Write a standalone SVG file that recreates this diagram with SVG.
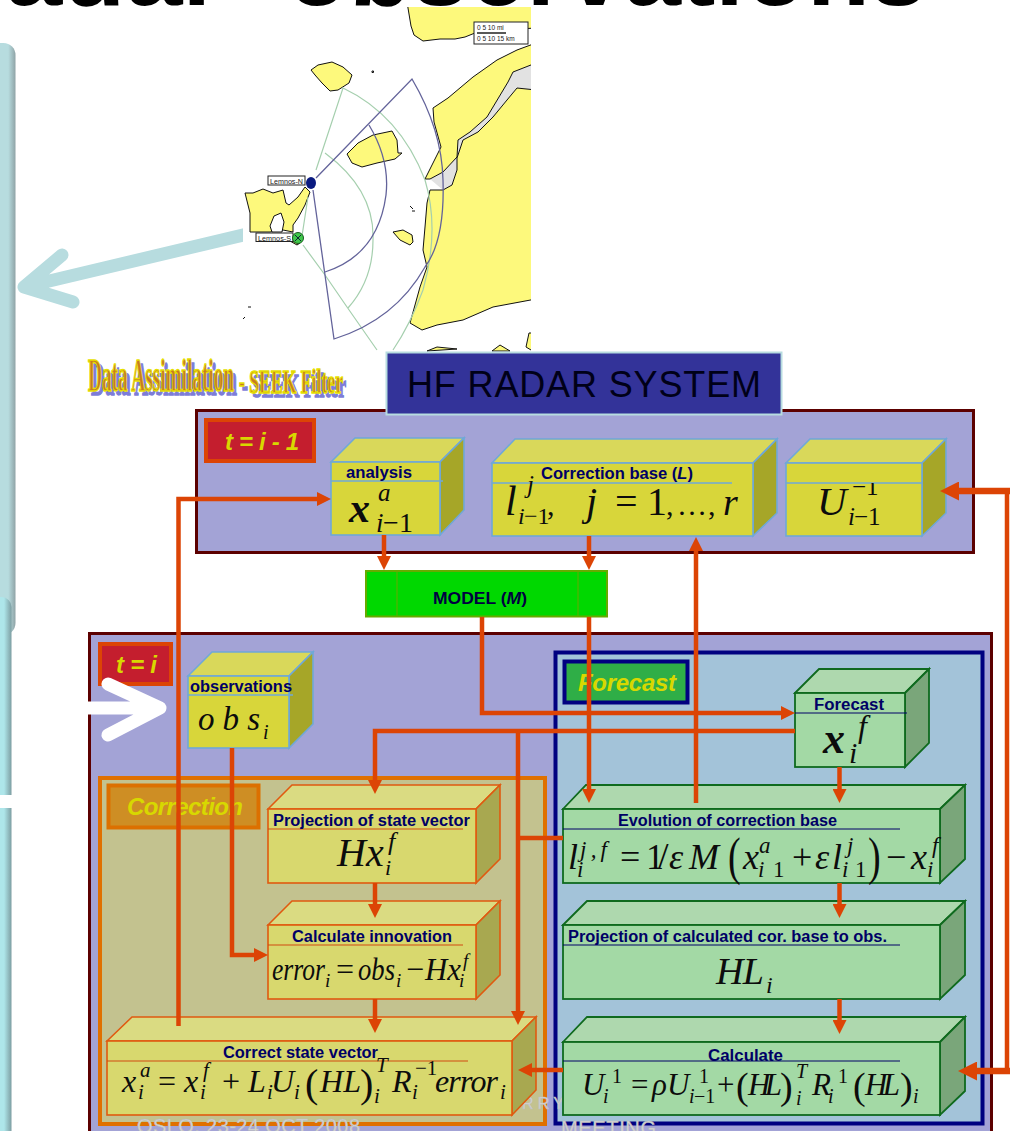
<svg xmlns="http://www.w3.org/2000/svg" width="1010" height="1131" viewBox="0 0 1010 1131">
<style>
text{font-family:"Liberation Serif","Times New Roman",serif;fill:#0c0c0c}
.m{font-style:italic}
.bm{font-style:italic;font-weight:bold}
.t{font-family:"Liberation Sans",Arial,sans-serif;font-weight:bold;font-size:16px;fill:#000066}
.lab{font-family:"Liberation Sans",Arial,sans-serif;font-weight:bold;font-style:italic;font-size:24px;fill:#d8d800}
.wm{font-family:"Liberation Sans",Arial,sans-serif;fill:#d4d4d4;stroke:#bcbcbc;stroke-width:.5}
.land{fill:#fdf97c;stroke:#111;stroke-width:1;stroke-linejoin:round}
.navy{fill:none;stroke:#63639a;stroke-width:1.3}
.grn{fill:none;stroke:#a5cfae;stroke-width:1.2}
.mlab{font-family:"Liberation Sans",Arial,sans-serif;font-size:8px;fill:#222}
.panel{fill:#a3a3d6;stroke:#5c0000;stroke-width:3}
.red{fill:#c41e2e;stroke:#dc4405;stroke-width:4}
.yf{fill:#d8d63a;stroke:#6fa8d8;stroke-width:1.6}
.yt{fill:#d9d85a;stroke:#6fa8d8;stroke-width:1.6}
.ys{fill:#a6a628;stroke:#6fa8d8;stroke-width:1.6}
.yl{stroke:#6fa8d8;stroke-width:1.6;fill:none}
.of{fill:#d8d86e;stroke:#e05a10;stroke-width:1.6}
.ot{fill:#dadb82;stroke:#e05a10;stroke-width:1.6}
.os{fill:#a8a850;stroke:#e05a10;stroke-width:1.6}
.ol{stroke:#d04a10;stroke-width:1;fill:none}
.gf{fill:#a3d9a5;stroke:#0f6a1e;stroke-width:1.8}
.gt{fill:#aed8ae;stroke:#0f6a1e;stroke-width:1.8}
.gs{fill:#7aa67a;stroke:#0f6a1e;stroke-width:1.8}
.gl{stroke:#000066;stroke-width:1;fill:none}
.c{fill:none;stroke:#dc4405;stroke-width:4.5}
.ca{fill:none;stroke:#dc4405;stroke-width:4.5;marker-end:url(#ah)}
.cb{fill:none;stroke:#dc4405;stroke-width:6.5;marker-end:url(#ahl)}
</style>
<defs>
<marker id="ah" viewBox="0 0 14 14" refX="6" refY="7" markerWidth="14" markerHeight="14" orient="auto" markerUnits="userSpaceOnUse"><path d="M0,0L14,7L0,14Z" fill="#dc4405"/></marker>
<marker id="ahl" viewBox="0 0 19 19" refX="8" refY="9.500" markerWidth="19" markerHeight="19" orient="auto" markerUnits="userSpaceOnUse"><path d="M0,0L19,9.500L0,19Z" fill="#dc4405"/></marker>
<linearGradient id="g1" x1="0" x2="1" y1="0" y2="0"><stop offset="0" stop-color="#b7dcdf"/><stop offset=".84" stop-color="#b7dcdf"/><stop offset="1" stop-color="#8fa3a6"/></linearGradient>
<linearGradient id="g2" x1="0" x2="1" y1="0" y2="0"><stop offset="0" stop-color="#aee6ea"/><stop offset=".82" stop-color="#aee6ea"/><stop offset="1" stop-color="#7d9ea2"/></linearGradient>
<clipPath id="mapclip"><rect x="243" y="7" width="288" height="346"/></clipPath>
<clipPath id="uclip"><rect x="840" y="483" width="60" height="30"/></clipPath>
</defs>

<g id="title"><text x="5" y="5" font-size="103" style="font-family:'Liberation Sans',Arial,sans-serif;font-weight:bold;fill:#000">adar <tspan x="286">observations</tspan></text></g>

<g id="side-panels">
<rect x="-30" y="43" width="45.500" height="592" rx="12" fill="url(#g1)"/>
<rect x="-30" y="597" width="41.500" height="560" rx="10" fill="url(#g2)"/>
<rect x="0" y="795" width="12" height="13" fill="#fff"/>
</g>

<path id="pointer-map" d="M260,231L24,287M62,255L24,287L73,302" fill="none" stroke="#b7dcdf" stroke-width="13" stroke-linecap="round" stroke-linejoin="round"/>

<g id="map" clip-path="url(#mapclip)">
<rect x="243" y="7" width="288" height="346" fill="#fff"/>
<path class="land" d="M407,2L411,26L414,35L423,41L440,39L455,39L465,37L475,33L500,30L536,28L536,2Z"/>
<path class="land" d="M311,70L318,65L332,62L343,67L352,75L349,83L338,90L330,91L322,83L315,75Z"/>
<path class="land" d="M347,154L358,143L373,135L392,131L397,140L398,153L402,153L395,159L377,163L362,167L352,163Z"/>
<path d="M536,63L513,72L508,82L487,117L470,132L458,140L457,157L443,172L430,179L443,190L452,185L457,170L463,140L478,132L493,117L507,100L517,88L536,90Z" fill="#e2e2e2"/>
<path class="land" d="M425,179L433,163L441,147L434,122L433,108L448,98L473,77L497,60L517,50L536,43L536,63L513,72L508,82L487,117L470,132L458,140L457,157L443,172L430,179Z"/>
<path class="land" d="M536,90L517,88L507,100L493,117L478,132L463,140L457,158L457,170L452,185L443,190L430,190L427,203L425,227L423,250L427,267L420,287L410,323L422,330L437,325L463,320L493,307L536,299Z"/>
<path class="land" d="M245,193L253,193L263,189L273,193L283,190L286,203L289,205L298,197L305,187L310,192L305,205L298,218L293,225L293,232L283,230L270,232L250,232L250,213Z"/>
<path d="M270,226L274,216L281,213L284,222L282,232L272,232Z" fill="#fff" stroke="#111"/>
<path class="land" d="M290,241L297,245L300,243Z"/>
<path class="land" d="M393,232L403,230L412,235L413,242L410,245L400,240Z"/>
<path class="land" d="M427,351L437,347L457,349Z"/>
<path class="land" d="M492,351L500,345L510,351Z"/>
<path class="land" d="M526,347L529,333L536,333L536,353Z"/>
<path d="M372,71h1.500v1.500h-1.500zM410,206l3,3M412,211h3M248,307h3M243,319l2,-2" stroke="#111" fill="none"/>
<path class="grn" d="M316,170L343,88Q400,115 425,180Q440,230 423,290Q410,325 393,350"/>
<path class="grn" d="M308,197L302,236M303,245L325,275L347,307L377,350"/>
<path class="grn" d="M325,153Q375,190 373,240Q373,280 348,308"/>
<path class="navy" d="M316,178L412,79Q442,130 443,180Q445,240 425,267Q395,320 334,339L313,190"/>
<path class="navy" d="M369,125Q390,160 386,195Q378,255 325,272"/>
<rect x="474" y="22" width="54" height="22" fill="#fff" stroke="#222"/>
<path d="M477,33h29M477,33h16" stroke="#222" stroke-width="1.500"/>
<text class="mlab" x="477" y="30" style="font-size:6.500px">0   5   10 mi</text>
<text class="mlab" x="477" y="41" style="font-size:6.500px">0 5 10 15  km</text>
<rect x="268" y="176" width="37" height="9" fill="#fff" stroke="#222"/>
<text class="mlab" x="270" y="184" textLength="33" lengthAdjust="spacingAndGlyphs">Lemnos-N</text>
<rect x="256" y="233" width="37" height="8.500" fill="#fff" stroke="#222"/>
<text class="mlab" x="258" y="241" textLength="33" lengthAdjust="spacingAndGlyphs">Lemnos-S</text>
<ellipse cx="311" cy="183" rx="5" ry="6" fill="#0a1a80"/>
<circle cx="298" cy="238" r="5.500" fill="#3ec84a" stroke="#1a5a20"/>
<path d="M295,235l6,6M301,235l-6,6" stroke="#123" stroke-width="1"/>
</g>

<g id="data-assimilation-label">
<g style="font-family:'Liberation Sans',Arial,sans-serif;font-weight:bold;font-size:46px">
<text x="91" y="395" textLength="146" lengthAdjust="spacingAndGlyphs" style="fill:#7d7dd8;stroke:#7d7dd8;stroke-width:1.500">Data Assimilation</text>
<text x="242" y="397" textLength="104" lengthAdjust="spacingAndGlyphs" style="font-size:34px;fill:#7d7dd8;stroke:#7d7dd8;stroke-width:1.500">- SEEK Filter</text>
<text x="88" y="391" textLength="146" lengthAdjust="spacingAndGlyphs" style="fill:#c97a20;stroke:#e6e000;stroke-width:1.500">Data Assimilation</text>
<text x="239" y="393" textLength="104" lengthAdjust="spacingAndGlyphs" style="font-size:34px;fill:#c97a20;stroke:#e6e000;stroke-width:1.500">- SEEK Filter</text>
</g>
</g>

<rect id="panel-prev" class="panel" x="196.500" y="410.500" width="777" height="142"/>
<g id="hf-radar-system"><rect x="386.500" y="352.500" width="395" height="62" fill="#333399" stroke="#b7dcdf" stroke-width="2"/><text x="407" y="397" font-size="36" textLength="354" style="font-family:'Liberation Sans',Arial,sans-serif;fill:#000018">HF RADAR SYSTEM</text></g>
<g id="label-t-prev"><rect class="red" x="206" y="420" width="108" height="41"/><text class="lab" x="225" y="450" textLength="74">t = i - 1</text></g>

<rect id="panel-cur" class="panel" x="89.500" y="633.500" width="902" height="520"/>
<g id="label-t-cur"><rect class="red" x="100" y="644" width="71" height="40"/><text class="lab" x="116" y="673" textLength="41">t = i</text></g>
<rect id="panel-correction" x="100" y="778" width="445" height="346" fill="#c3c28f" stroke="#e07000" stroke-width="4"/>
<g id="label-correction"><rect x="108.500" y="785.500" width="150" height="42" fill="#ce8e24" stroke="#dc7000" stroke-width="4"/><text class="lab" x="127" y="815" textLength="116">Correction</text></g>
<rect id="panel-forecast" x="555.500" y="652.500" width="427" height="471" fill="#a3c3d9" stroke="#000080" stroke-width="4"/>
<g id="label-forecast"><rect x="564.500" y="661.500" width="123" height="41" fill="#2fae47" stroke="#000080" stroke-width="4"/><text class="lab" x="578" y="691" textLength="98">Forecast</text></g>

<g id="watermark">
<text class="wm" x="137" y="1133" font-size="20" textLength="223">OSLO, 23-24 OCT 2008</text>
<text class="wm" x="561" y="1135" font-size="20" textLength="95">MEETING</text>
<text class="wm" x="522" y="1109" font-size="16" textLength="42">RRY</text>
</g>

<g id="node-analysis">
<path class="yt" d="M331,462L355,438H464L440,462Z"/><path class="ys" d="M440,462L464,438V510L440,535Z"/><rect class="yf" x="331" y="462" width="109" height="73"/><path class="yl" d="M331,481H443"/>
<text class="t" x="346" y="478" textLength="66" lengthAdjust="spacingAndGlyphs">analysis</text>
<text class="bm" x="349" y="522" font-size="42">x</text><text class="m" x="378" y="501" font-size="25">a</text><text class="m" x="376" y="532" font-size="27">i</text><text x="383" y="532" font-size="28">−</text><text x="399" y="532" font-size="28">1</text>
</g>
<g id="node-correction-base">
<path class="yt" d="M492,463L515,439H777L753,463Z"/><path class="ys" d="M753,463L777,439V513L753,536Z"/><rect class="yf" x="492" y="463" width="261" height="73"/><path class="yl" d="M492,483H732"/>
<text class="t" x="541" y="479" textLength="152" lengthAdjust="spacingAndGlyphs">Correction base (<tspan font-style="italic">L</tspan>)</text>
<text class="m" x="505" y="515" font-size="42">l</text><text class="m" x="527" y="493" font-size="25">j</text><text class="m" x="518" y="524" font-size="24">i</text><text x="524" y="524" font-size="24">−1</text><text x="547" y="515" font-size="30">,</text>
<text class="m" x="586" y="515" font-size="40">j</text><text x="615" y="515" font-size="40">=</text><text x="647" y="515" font-size="40">1</text><text x="666" y="515" font-size="30">,</text><text x="677" y="515" font-size="30">…</text><text x="708" y="515" font-size="30">,</text><text class="bm" x="723" y="515" font-size="38" style="font-weight:normal">r</text>
</g>
<g id="node-u">
<path class="yt" d="M786,463L810,439H946L922,463Z"/><path class="ys" d="M922,463L946,439V513L922,536Z"/><rect class="yf" x="786" y="463" width="136" height="73"/><path class="yl" d="M786,483H922"/>
<text class="m" x="817" y="515" font-size="41">U</text><text x="852" y="495" font-size="25" clip-path="url(#uclip)">−1</text><text class="m" x="848" y="525" font-size="25">i</text><text x="854" y="525" font-size="25">−1</text>
</g>
<g id="node-model">
<rect x="366" y="571" width="241" height="45.500" fill="#00d800" stroke="#66aa00" stroke-width="2"/><path d="M397,571V616M578,571V616" stroke="#66aa00" stroke-width="1"/>
<text class="t" x="433" y="604" textLength="94" lengthAdjust="spacingAndGlyphs" style="font-size:17px;fill:#000040">MODEL (<tspan font-style="italic">M</tspan>)</text>
</g>
<g id="node-observations">
<path class="yt" d="M188,676L212,652H313L289,676Z"/><path class="ys" d="M289,676L313,652V724L289,748Z"/><rect class="yf" x="188" y="676" width="101" height="72"/><path class="yl" d="M188,695H293"/>
<text class="t" x="190" y="692" textLength="102" lengthAdjust="spacingAndGlyphs">observations</text>
<text class="m" x="198" y="730" font-size="33" textLength="62">obs</text><text class="m" x="263" y="739" font-size="20">i</text>
</g>
<g id="node-forecast">
<path class="gt" d="M795,693L819,669H929L905,693Z"/><path class="gs" d="M905,693L929,669V743L905,767Z"/><rect class="gf" x="795" y="693" width="110" height="74"/><path class="gl" d="M795,713H907"/>
<text class="t" x="814" y="710" textLength="70" lengthAdjust="spacingAndGlyphs">Forecast</text>
<text class="bm" x="823" y="753" font-size="44">x</text><text class="m" x="858" y="737" font-size="32">f</text><text class="m" x="849" y="763" font-size="30">i</text>
</g>
<g id="node-evolution">
<path class="gt" d="M563,809L586,785H965L940,809Z"/><path class="gs" d="M940,809L965,785V859L940,883Z"/><rect class="gf" x="563" y="809" width="377" height="74"/><path class="gl" d="M563,829H900"/>
<text class="t" x="618" y="826" textLength="219" lengthAdjust="spacingAndGlyphs">Evolution of correction base</text>
<g font-size="36"><text class="m" x="568" y="869">l</text><text x="620" y="869">=</text><text x="646" y="869">1</text><text x="658" y="869" font-size="38">/</text><text class="m" x="669" y="869">ε</text><text class="m" x="689" y="869">M</text><text x="743" y="869" class="m">x</text><text x="792" y="869">+</text><text class="m" x="815" y="869">ε</text><text class="m" x="832" y="869">l</text><text x="886" y="869">−</text><text class="m" x="911" y="869">x</text></g>
<g font-size="23"><text class="m" x="580" y="857" textLength="27">j,f</text><text class="m" x="577" y="877">i</text><text class="m" x="759" y="853">a</text><text class="m" x="758" y="877">i</text><text x="773" y="877">1</text><text class="m" x="847" y="853">j</text><text class="m" x="842" y="877">i</text><text x="855" y="877">1</text><text class="m" x="932" y="853">f</text><text class="m" x="927" y="877">i</text></g>
<g font-size="38"><text transform="matrix(1 0 0 1.4 728 874)">(</text><text transform="matrix(1 0 0 1.4 868 874)">)</text></g>
</g>
<g id="node-projection-cor">
<path class="gt" d="M563,925L587,901H965L940,925Z"/><path class="gs" d="M940,925L965,901V975L940,999Z"/><rect class="gf" x="563" y="925" width="377" height="74"/><path class="gl" d="M563,945H900"/>
<text class="t" x="568" y="942" textLength="319" lengthAdjust="spacingAndGlyphs">Projection of calculated cor. base to obs.</text>
<text class="m" x="716" y="984" font-size="38" textLength="48">HL</text><text class="m" x="766" y="993" font-size="24">i</text>
</g>
<g id="node-calculate">
<path class="gt" d="M563,1042L587,1017H965L940,1042Z"/><path class="gs" d="M940,1042L965,1017V1091L940,1115Z"/><rect class="gf" x="563" y="1042" width="377" height="73"/><path class="gl" d="M563,1061H900"/>
<text class="t" x="708" y="1061" textLength="75" lengthAdjust="spacingAndGlyphs">Calculate</text>
<g font-size="31"><text class="m" x="582" y="1095">U</text><text x="631" y="1095">=</text><text class="m" x="652" y="1095">ρ</text><text class="m" x="667" y="1095">U</text><text x="717" y="1095">+</text><text class="m" x="748" y="1095" textLength="34">HL</text><text class="m" x="812" y="1095">R</text><text class="m" x="865" y="1095" textLength="35">HL</text></g>
<g font-size="38"><text x="736" y="1099">(</text><text x="780" y="1099">)</text><text x="853" y="1099">(</text><text x="900" y="1099">)</text></g>
<g font-size="20"><text class="m" x="603" y="1103">i</text><text x="612" y="1083">1</text><text class="m" x="689" y="1103">i</text><text x="694" y="1103">−1</text><text x="699" y="1083">1</text><text class="m" x="796" y="1078">T</text><text class="m" x="796" y="1105">i</text><text class="m" x="828" y="1103">i</text><text x="838" y="1083">1</text><text class="m" x="913" y="1103">i</text></g>
</g>
<g id="node-projection-state">
<path class="ot" d="M268,809L292,785H500L476,809Z"/><path class="os" d="M476,809L500,785V859L476,883Z"/><rect class="of" x="268" y="809" width="208" height="74"/><path class="ol" d="M268,829H463"/>
<text class="t" x="273" y="826" textLength="197" lengthAdjust="spacingAndGlyphs">Projection of state vector</text>
<text class="m" x="337" y="866" font-size="40">H</text><text class="m" x="366" y="866" font-size="40">x</text><text class="m" x="388" y="850" font-size="26">f</text><text class="m" x="385" y="875" font-size="22">i</text>
</g>
<g id="node-innovation">
<path class="ot" d="M268,925L292,901H500L476,925Z"/><path class="os" d="M476,925L500,901V975L476,999Z"/><rect class="of" x="268" y="925" width="208" height="74"/><path class="ol" d="M268,945H463"/>
<text class="t" x="292" y="942" textLength="160" lengthAdjust="spacingAndGlyphs">Calculate innovation</text>
<g font-size="32"><text class="m" x="272" y="980" textLength="53" lengthAdjust="spacingAndGlyphs">error</text><text x="336" y="980">=</text><text class="m" x="358" y="980" textLength="37" lengthAdjust="spacingAndGlyphs">obs</text><text x="406" y="980">−</text><text class="m" x="425" y="980" textLength="36" lengthAdjust="spacingAndGlyphs">Hx</text></g>
<g font-size="19"><text class="m" x="325" y="987">i</text><text class="m" x="396" y="987">i</text><text class="m" x="463" y="967">f</text><text class="m" x="459" y="987">i</text></g>
</g>
<g id="node-correct-state">
<path class="ot" d="M107,1041L132,1017H536L512,1041Z"/><path class="os" d="M512,1041L536,1017V1090L512,1115Z"/><rect class="of" x="107" y="1041" width="405" height="74"/><path class="ol" d="M107,1061H468"/>
<text class="t" x="223" y="1058" textLength="155" lengthAdjust="spacingAndGlyphs">Correct state vector</text>
<g font-size="32"><text class="m" x="122" y="1092">x</text><text x="158" y="1092">=</text><text class="m" x="184" y="1092">x</text><text x="222" y="1092">+</text><text class="m" x="248" y="1092">L</text><text class="m" x="271" y="1092">U</text><text class="m" x="320" y="1092" textLength="41">HL</text><text class="m" x="392" y="1092">R</text><text class="m" x="435" y="1092" textLength="63" lengthAdjust="spacing">error</text></g>
<g font-size="40"><text x="305" y="1097">(</text><text x="360" y="1097">)</text></g>
<g font-size="21"><text class="m" x="140" y="1077">a</text><text class="m" x="138" y="1099">i</text><text class="m" x="203" y="1077">f</text><text class="m" x="200" y="1099">i</text><text class="m" x="267" y="1099">i</text><text class="m" x="294" y="1099">i</text><text class="m" x="376" y="1072">T</text><text class="m" x="374" y="1103">i</text><text class="m" x="412" y="1099">i</text><text x="415" y="1075">−1</text><text class="m" x="500" y="1099">i</text></g>
</g>

<g id="connectors">
<path class="ca" d="M178.500,1026V499H323"/>
<path class="ca" d="M384,535V562"/>
<path class="ca" d="M589,536V562"/>
<path class="ca" d="M482,617V713H787"/>
<path class="ca" d="M589,617V795"/>
<path class="ca" d="M696,803V545"/>
<path class="ca" d="M795,731H375V786"/>
<path class="ca" d="M839.500,767V795"/>
<path class="ca" d="M839.500,883V910"/>
<path class="ca" d="M839.500,999V1026"/>
<path class="ca" d="M518,731V1017"/>
<path class="c" d="M563,838H518"/>
<path class="ca" d="M232,748V955H260"/>
<path class="ca" d="M375,883V910"/>
<path class="ca" d="M375,999V1025"/>
<path class="ca" d="M563,1070H526"/>
<path class="cb" d="M1010,491H951"/>
<path class="c" d="M1007,488V1074"/>
<path class="cb" d="M1010,1071H969"/>
</g>

<path id="pointer-obs" d="M88,708H160M108,684L160,708L108,735" fill="none" stroke="#fff" stroke-width="13" stroke-linecap="round" stroke-linejoin="round"/>
</svg>
